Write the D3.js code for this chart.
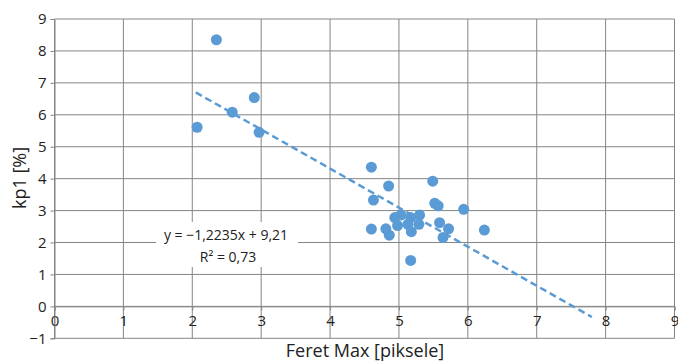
<!DOCTYPE html>
<html>
<head>
<meta charset="utf-8">
<script src="https://cdn.jsdelivr.net/npm/d3@7"></script>
<style>
  body { margin: 0; background: #fff; }
  svg text { font-family: 'Open Sans', sans-serif; fill: #222; }
</style>
</head>
<body>
<svg width="678" height="363"></svg>
<script>
// Feret Max vs kp1
const feretMax = [2.35, 2.07, 2.58, 2.90, 2.97, 4.60, 4.85, 4.63, 5.49, 5.52, 5.57, 5.94,
                  4.94, 5.03, 5.17, 5.30, 4.98, 5.13, 5.18, 5.29, 5.59, 5.72, 5.64,
                  4.60, 4.81, 4.86, 6.24, 5.17];
const kp1 = [8.35, 5.61, 6.08, 6.54, 5.45, 4.36, 3.77, 3.33, 3.92, 3.23, 3.15, 3.04,
             2.78, 2.86, 2.78, 2.86, 2.53, 2.57, 2.34, 2.57, 2.62, 2.43, 2.16,
             2.42, 2.43, 2.23, 2.39, 1.44];
const xTicks = [0, 1, 2, 3, 4, 5, 6, 7, 8, 9];
const yTicks = [-1, 0, 1, 2, 3, 4, 5, 6, 7, 8, 9];
const slope = -1.2235, intercept = 9.21;
const trendRange = [2.05, 7.8];
const eqText = 'y = \u22121,2235x + 9,21';
const r2Text = 'R\u00b2 = 0,73';

const svg = d3.select('svg');
const x = d3.scaleLinear().domain([0, 9]).range([54.5, 674.5]);
const y = d3.scaleLinear().domain([-1, 9]).range([338.3, 19]);
const gridColor = '#858585';
const blue = '#5b9bd5';

// grid
svg.append('g').selectAll('line').data(yTicks).enter().append('line')
    .attr('x1', x(0)).attr('x2', x(9))
    .attr('y1', d => y(d)).attr('y2', d => y(d))
    .attr('stroke', gridColor).attr('stroke-width', 1);
svg.append('g').selectAll('line').data(xTicks).enter().append('line')
    .attr('x1', d => x(d)).attr('x2', d => x(d))
    .attr('y1', y(9)).attr('y2', y(-1))
    .attr('stroke', gridColor).attr('stroke-width', 1);

// axes at zero
const xAxis = d3.axisBottom(x).tickValues(xTicks).tickSize(4).tickFormat(d3.format('d'));
svg.append('g').attr('transform', `translate(0,${y(0)})`).call(xAxis)
    .call(g => g.select('.domain').attr('stroke', gridColor))
    .call(g => g.selectAll('.tick line').attr('stroke', gridColor))
    .call(g => g.selectAll('.tick text').attr('font-size', 15).attr('dy', '0.85em').attr('fill', '#222'));

const yAxis = d3.axisLeft(y).tickValues(yTicks).tickSize(4)
    .tickFormat(d => d < 0 ? '\u2212' + Math.abs(d) : d);
svg.append('g').attr('transform', `translate(${x(0)},0)`).call(yAxis)
    .call(g => g.select('.domain').attr('stroke', gridColor))
    .call(g => g.selectAll('.tick line').attr('stroke', gridColor))
    .call(g => g.selectAll('.tick text').attr('font-size', 15).attr('x', -8).attr('fill', '#222'));

// trendline
svg.append('line')
    .attr('x1', x(trendRange[0])).attr('y1', y(slope * trendRange[0] + intercept))
    .attr('x2', x(trendRange[1])).attr('y2', y(slope * trendRange[1] + intercept))
    .attr('stroke', blue).attr('stroke-width', 2.5).attr('stroke-dasharray', '7,4');

// points
svg.append('g').selectAll('circle').data(feretMax).enter().append('circle')
    .attr('cx', d => x(d)).attr('cy', (d, i) => y(kp1[i]))
    .attr('r', 5.5).attr('fill', blue);

// equation label
const lab = svg.append('g');
lab.append('rect').attr('x', 156).attr('y', 222).attr('width', 142).attr('height', 45).attr('fill', '#fff');
lab.append('text').attr('x', 226).attr('y', 240).attr('text-anchor', 'middle')
    .attr('font-size', 14).text(eqText);
lab.append('text').attr('x', 228).attr('y', 262).attr('text-anchor', 'middle')
    .attr('font-size', 14).text(r2Text);

// axis titles
svg.append('text').attr('x', 365).attr('y', 357).attr('text-anchor', 'middle')
    .attr('font-size', 18).text('Feret Max [piksele]');
svg.append('text').attr('transform', 'translate(26,178) rotate(-90)').attr('text-anchor', 'middle')
    .attr('font-size', 18).text('kp1 [%]');
</script>
</body>
</html>
